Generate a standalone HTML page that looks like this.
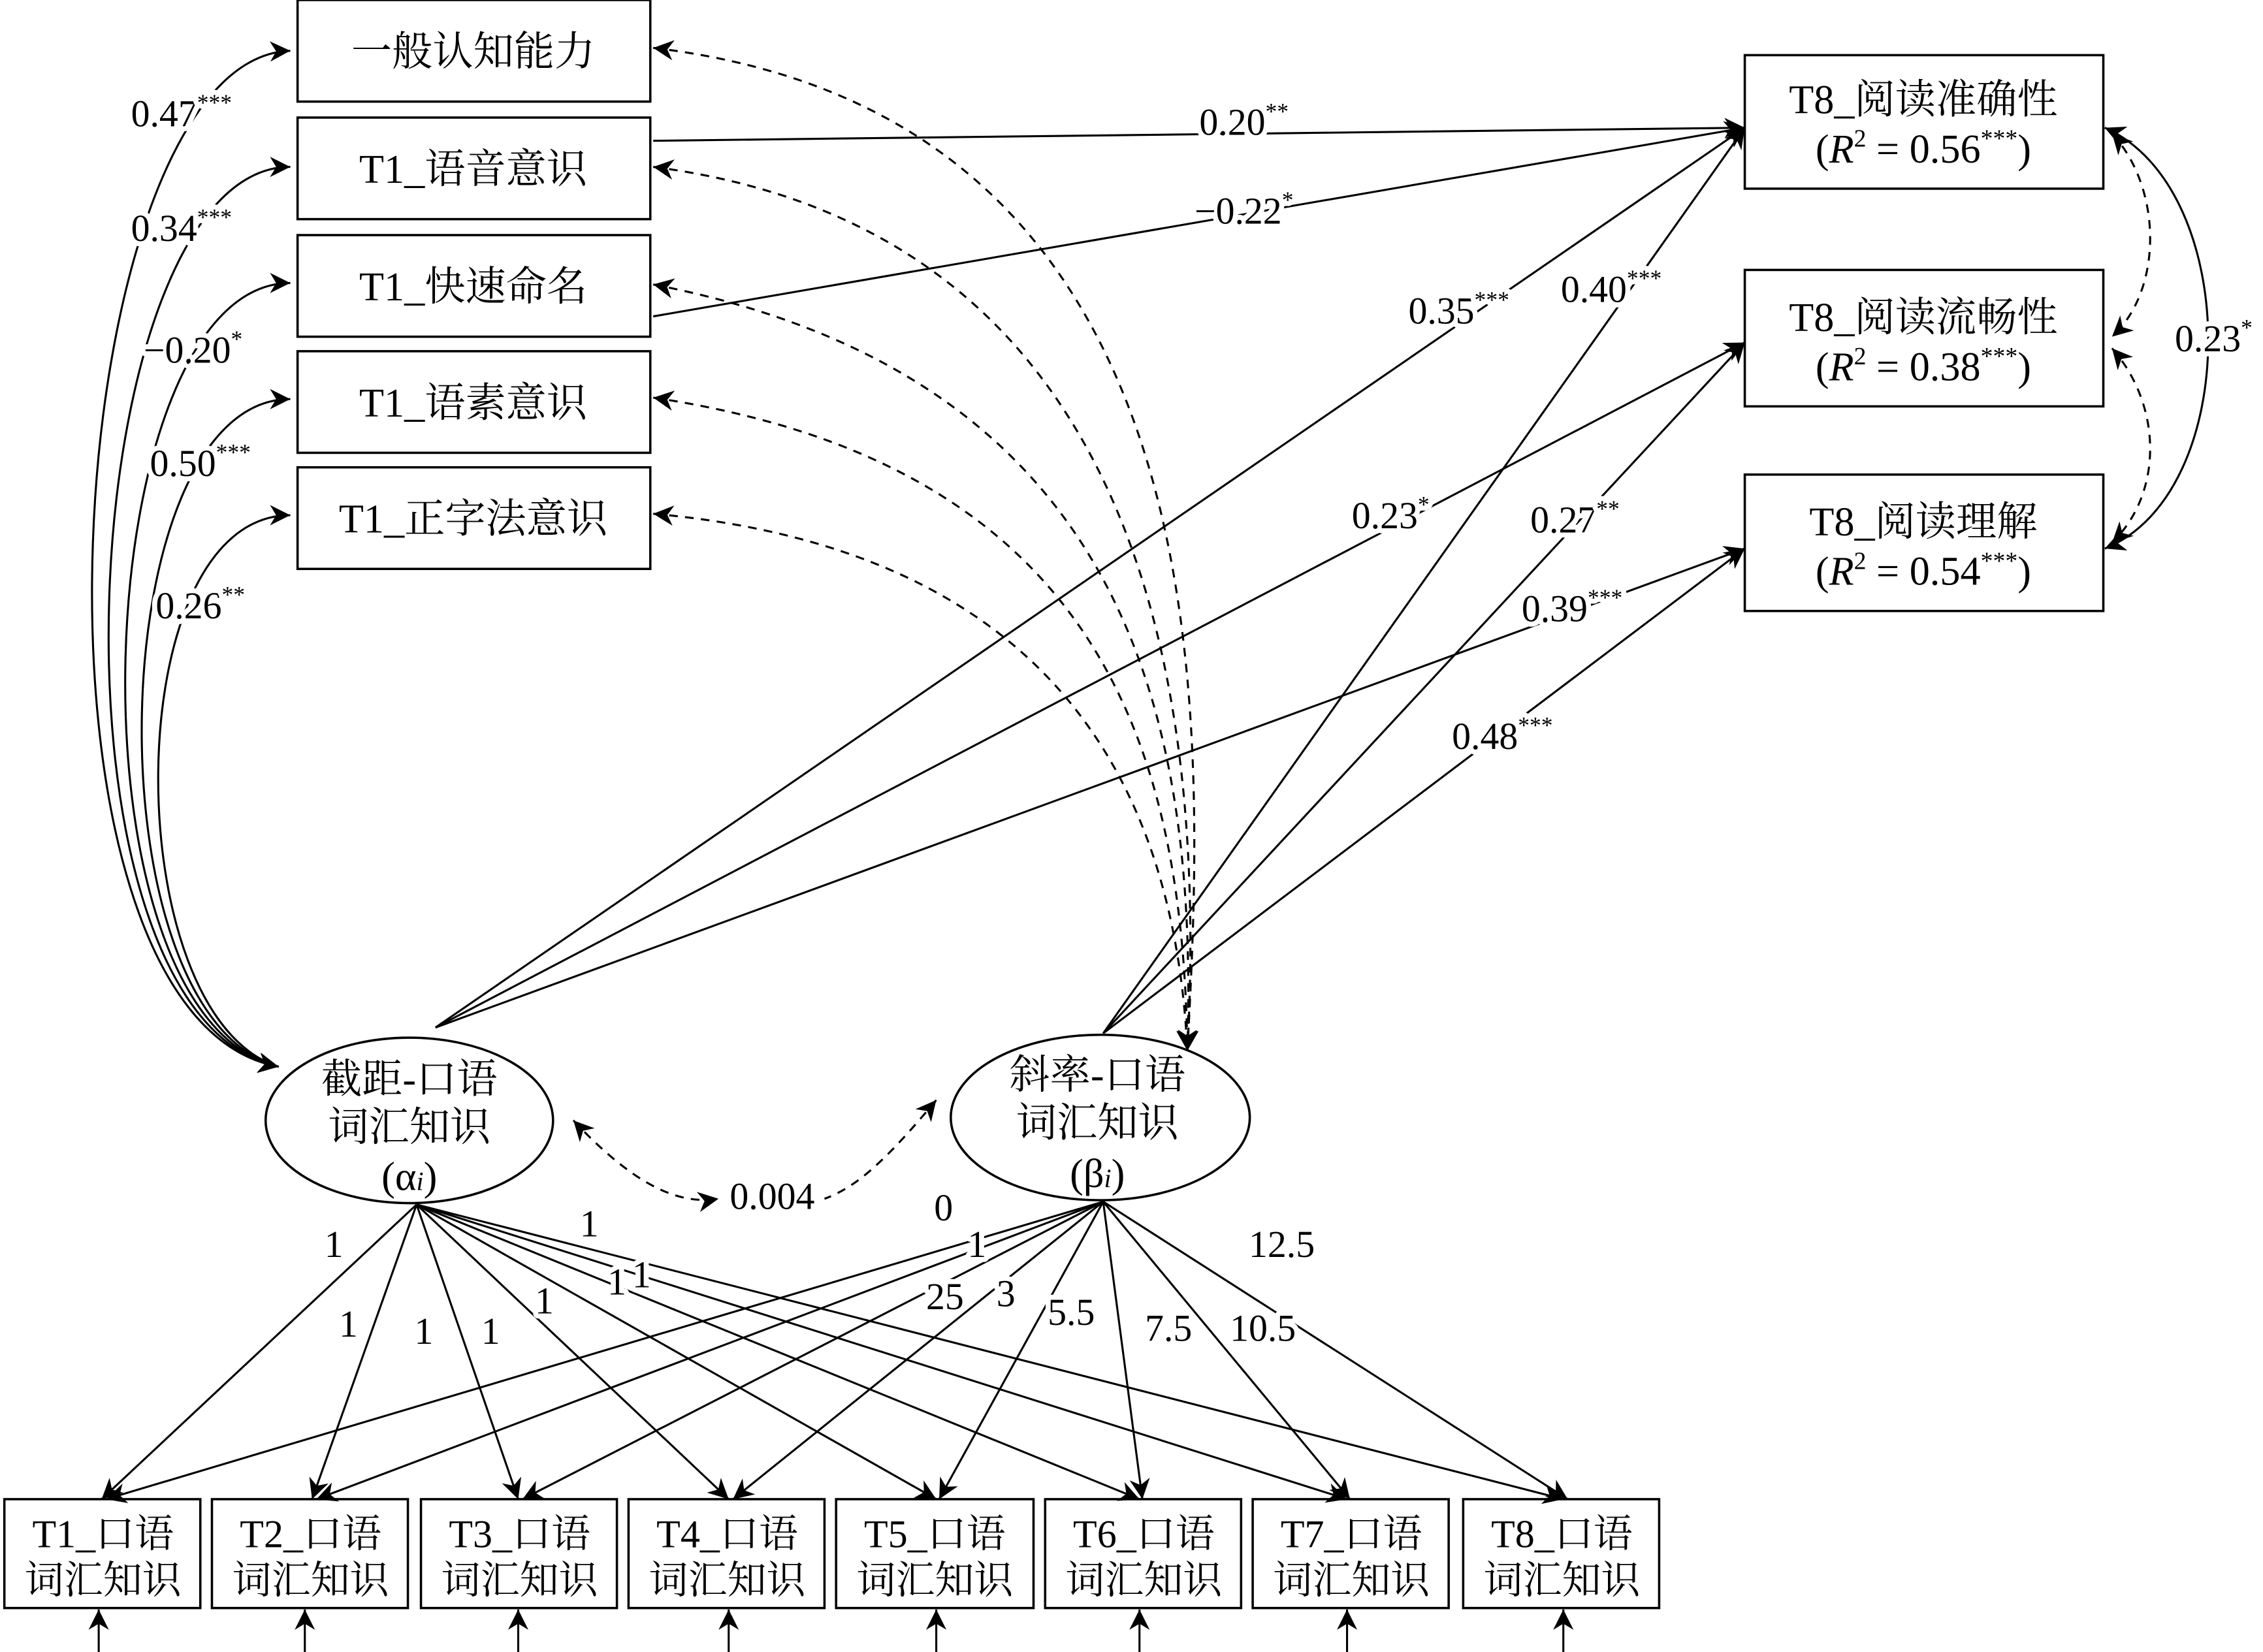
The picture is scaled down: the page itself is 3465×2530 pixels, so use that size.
<!DOCTYPE html>
<html><head><meta charset="utf-8"><style>html,body{margin:0;padding:0;background:#fff}svg{display:block}</style></head><body>
<svg width="3465" height="2530" viewBox="0 0 1559 1138.3" preserveAspectRatio="none" xmlns="http://www.w3.org/2000/svg" font-family="'Liberation Serif','Noto Serif CJK SC',serif">
<defs>
<marker id="b" viewBox="0 0 10 10" refX="10" refY="5" markerWidth="14" markerHeight="14" orient="auto-start-reverse" markerUnits="userSpaceOnUse"><path d="M0,0 L10,5 L0,10 L3,5z" fill="#000"/></marker>
</defs>
<g fill="none" stroke="#000" stroke-width="1.6">
<rect x="205" y="0" width="243" height="70"/>
<rect x="205" y="81" width="243" height="70"/>
<rect x="205" y="162" width="243" height="70"/>
<rect x="205" y="242" width="243" height="70"/>
<rect x="205" y="322" width="243" height="70"/>
<rect x="1202" y="38" width="247" height="92"/>
<rect x="1202" y="186" width="247" height="94"/>
<rect x="1202" y="327" width="247" height="94"/>
<ellipse cx="282" cy="772" rx="99" ry="57"/>
<ellipse cx="758" cy="770" rx="103" ry="57"/>
<rect x="3" y="1033" width="135" height="75"/>
<rect x="146" y="1033" width="135" height="75"/>
<rect x="290" y="1033" width="135" height="75"/>
<rect x="433" y="1033" width="135" height="75"/>
<rect x="576" y="1033" width="136" height="75"/>
<rect x="720" y="1033" width="135" height="75"/>
<rect x="863" y="1033" width="135" height="75"/>
<rect x="1008" y="1033" width="135" height="75"/>
</g>
<g fill="none" stroke="#000" stroke-width="1.4" marker-end="url(#b)">
<line x1="68" y1="1145" x2="68" y2="1109"/><line x1="210" y1="1145" x2="210" y2="1109"/><line x1="357" y1="1145" x2="357" y2="1109"/><line x1="502" y1="1145" x2="502" y2="1109"/><line x1="645" y1="1145" x2="645" y2="1109"/><line x1="785" y1="1145" x2="785" y2="1109"/><line x1="928" y1="1145" x2="928" y2="1109"/><line x1="1077" y1="1145" x2="1077" y2="1109"/>
<line x1="287" y1="830" x2="70" y2="1033"/><line x1="287" y1="830" x2="215" y2="1033"/><line x1="287" y1="830" x2="357" y2="1033"/><line x1="287" y1="830" x2="502" y2="1033"/><line x1="287" y1="830" x2="645" y2="1033"/><line x1="287" y1="830" x2="785" y2="1033"/><line x1="287" y1="830" x2="928" y2="1033"/><line x1="287" y1="830" x2="1077" y2="1033"/>
<line x1="760" y1="828" x2="73" y2="1033"/><line x1="760" y1="828" x2="218" y2="1033"/><line x1="760" y1="828" x2="360" y2="1033"/><line x1="760" y1="828" x2="505" y2="1033"/><line x1="760" y1="828" x2="647" y2="1033"/><line x1="760" y1="828" x2="787" y2="1033"/><line x1="760" y1="828" x2="930" y2="1033"/><line x1="760" y1="828" x2="1080" y2="1033"/>
<line x1="450" y1="97" x2="1202" y2="88"/>
<line x1="450" y1="218" x2="1202" y2="88"/>
<line x1="300" y1="708" x2="1202" y2="88"/>
<line x1="300" y1="708" x2="1202" y2="236"/>
<line x1="300" y1="708" x2="1202" y2="378"/>
<line x1="760" y1="712" x2="1202" y2="88"/>
<line x1="760" y1="712" x2="1202" y2="236"/>
<line x1="760" y1="712" x2="1202" y2="378"/>
<path d="M192,735 C0,700 40,40 200,35" marker-start="url(#b)"/>
<path d="M192,735 C20,700 50,115 200,115" marker-start="url(#b)"/>
<path d="M192,735 C40,700 60,195 200,195"/>
<path d="M192,735 C60,700 70,275 200,275"/>
<path d="M192,735 C80,700 80,355 200,355"/>
<path d="M1450,88 C1545,130 1545,340 1450,378" marker-start="url(#b)"/>
</g>
<g fill="none" stroke="#000" stroke-width="1.4" stroke-dasharray="6,5" marker-start="url(#b)" marker-end="url(#b)">
<path d="M450,33 C850,80 830,500 818,724"/>
<path d="M450,115 C800,160 830,500 818,724"/>
<path d="M450,196 C780,260 825,500 818,724"/>
<path d="M450,274 C760,320 815,520 818,724"/>
<path d="M450,354 C740,380 810,560 818,724"/>
<path d="M395,772 C440,820 470,830 495,826"/>
<path d="M645,758 C610,800 590,818 568,826" marker-end="none"/>
<path d="M1455,92 C1490,130 1490,200 1455,232"/>
<path d="M1455,240 C1490,280 1490,340 1455,374"/>
</g>
<g font-size="28" text-anchor="middle" fill="#000">
<text x="326" y="45">一般认知能力</text>
<text x="326" y="126">T1_语音意识</text>
<text x="326" y="207">T1_快速命名</text>
<text x="326" y="287">T1_语素意识</text>
<text x="326" y="367">T1_正字法意识</text>
<text x="1325" y="78">T8_阅读准确性</text>
<text x="1325" y="112">(<tspan font-style="italic">R</tspan><tspan font-size="17" dy="-11">2</tspan><tspan dy="11"> = 0.56</tspan><tspan font-size="17" dy="-11">***</tspan><tspan dy="11">)</tspan></text>
<text x="1325" y="228">T8_阅读流畅性</text>
<text x="1325" y="262">(<tspan font-style="italic">R</tspan><tspan font-size="17" dy="-11">2</tspan><tspan dy="11"> = 0.38</tspan><tspan font-size="17" dy="-11">***</tspan><tspan dy="11">)</tspan></text>
<text x="1325" y="369">T8_阅读理解</text>
<text x="1325" y="403">(<tspan font-style="italic">R</tspan><tspan font-size="17" dy="-11">2</tspan><tspan dy="11"> = 0.54</tspan><tspan font-size="17" dy="-11">***</tspan><tspan dy="11">)</tspan></text>
<text x="282" y="753">截距-口语</text>
<text x="282" y="786">词汇知识</text>
<text x="282" y="820">(α<tspan font-size="18" font-style="italic">i</tspan>)</text>
<text x="756" y="750">斜率-口语</text>
<text x="756" y="783">词汇知识</text>
<text x="756" y="818">(β<tspan font-size="18" font-style="italic">i</tspan>)</text>
<g font-size="27">
<text x="71" y="1066">T1_口语</text><text x="71" y="1098">词汇知识</text>
<text x="214" y="1066">T2_口语</text><text x="214" y="1098">词汇知识</text>
<text x="358" y="1066">T3_口语</text><text x="358" y="1098">词汇知识</text>
<text x="501" y="1066">T4_口语</text><text x="501" y="1098">词汇知识</text>
<text x="644" y="1066">T5_口语</text><text x="644" y="1098">词汇知识</text>
<text x="788" y="1066">T6_口语</text><text x="788" y="1098">词汇知识</text>
<text x="931" y="1066">T7_口语</text><text x="931" y="1098">词汇知识</text>
<text x="1076" y="1066">T8_口语</text><text x="1076" y="1098">词汇知识</text>
</g>
</g>
<g font-size="26" fill="#000" text-anchor="middle" stroke="#fff" stroke-width="7" paint-order="stroke" stroke-linejoin="round">
<text x="125" y="87">0.47<tspan font-size="16" dy="-11">***</tspan></text>
<text x="125" y="166">0.34<tspan font-size="16" dy="-11">***</tspan></text>
<text x="133" y="250">−0.20<tspan font-size="16" dy="-11">*</tspan></text>
<text x="138" y="328">0.50<tspan font-size="16" dy="-11">***</tspan></text>
<text x="138" y="426">0.26<tspan font-size="16" dy="-11">**</tspan></text>
<text x="857" y="93">0.20<tspan font-size="16" dy="-11">**</tspan></text>
<text x="857" y="154">−0.22<tspan font-size="16" dy="-11">*</tspan></text>
<text x="1005" y="223">0.35<tspan font-size="16" dy="-11">***</tspan></text>
<text x="1110" y="208">0.40<tspan font-size="16" dy="-11">***</tspan></text>
<text x="958" y="364">0.23<tspan font-size="16" dy="-11">*</tspan></text>
<text x="1085" y="367">0.27<tspan font-size="16" dy="-11">**</tspan></text>
<text x="1083" y="428">0.39<tspan font-size="16" dy="-11">***</tspan></text>
<text x="1035" y="516">0.48<tspan font-size="16" dy="-11">***</tspan></text>
<text x="1525" y="242">0.23<tspan font-size="16" dy="-11">*</tspan></text>
<text x="532" y="833">0.004</text>
<text x="230" y="866">1</text><text x="240" y="921">1</text><text x="292" y="926">1</text><text x="338" y="926">1</text><text x="375" y="905">1</text><text x="406" y="852">1</text><text x="425" y="892">1</text><text x="442" y="887">1</text>
<text x="650" y="841">0</text><text x="673" y="866">1</text><text x="651" y="902">25</text><text x="693" y="900">3</text><text x="738" y="913">5.5</text><text x="805" y="924">7.5</text><text x="870" y="924">10.5</text><text x="883" y="866">12.5</text>
</g>
</svg>
</body></html>
